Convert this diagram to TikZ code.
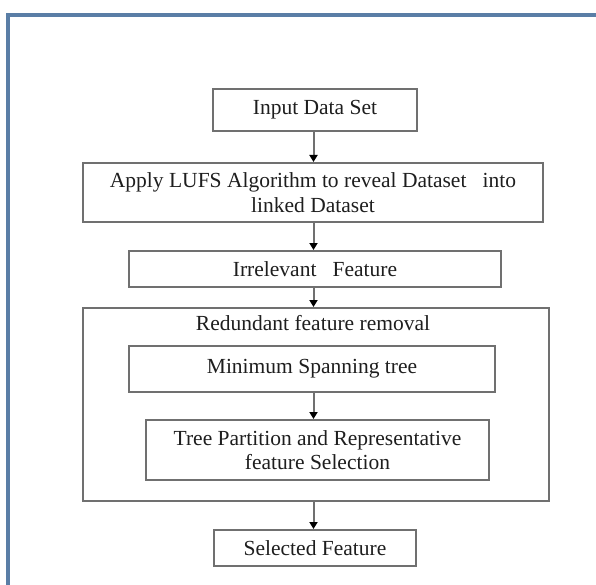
\documentclass[tikz,border=0pt]{standalone}
\usepackage{fontspec}
\setmainfont{Liberation Serif}
\usetikzlibrary{arrows.meta}
\definecolor{framebl}{HTML}{5A7EA6}
\definecolor{boxgray}{HTML}{707070}
\definecolor{textgray}{HTML}{1E1E1E}
\tikzset{
  flowbox/.style={draw=boxgray, line width=2pt, inner sep=0pt, align=center,
    text=textgray, font=\fontsize{21.5}{24.5}\selectfont},
  flowarrow/.style={draw=boxgray, line width=2pt,
    -{Triangle[width=8pt,length=7pt,color=black]}},
}
\begin{document}
\begin{tikzpicture}[x=1pt,y=-1pt]
\useasboundingbox (0,0) rectangle (596,585);
\fill[white] (0,0) rectangle (596,585);
% page frame: top and left edges
\draw[framebl, line width=3.5pt] (8,585) -- (8,15) -- (596,15);

\node[flowbox, minimum width=204pt, minimum height=42pt] (inp) at (315,110) {Input Data Set};
\node[flowbox, minimum width=460pt, minimum height=59pt] (apply) at (313,192.5)
  {Apply LUFS Algorithm to reveal Dataset\ \ \ into\\linked Dataset};
\node[flowbox, minimum width=372pt, minimum height=36pt] (irr) at (315,269) {Irrelevant\ \ \ Feature};
\node[flowbox, minimum width=466pt, minimum height=193pt] (red) at (316,404.5) {};
\node[text=textgray, font=\fontsize{21.5}{24.5}\selectfont, inner sep=0pt] (redt) at (313,323) {Redundant feature removal};
\node[flowbox, minimum width=366pt, minimum height=46pt] (mst) at (312,369) {Minimum Spanning tree};
\node[flowbox, minimum width=343pt, minimum height=60pt] (tree) at (317.5,450)
  {Tree Partition and Representative\\feature Selection};
\node[flowbox, minimum width=202pt, minimum height=36pt] (sel) at (315,548) {Selected Feature};

\draw[flowarrow] (313.5,0 |- inp.south) -- (313.5,0 |- apply.north);
\draw[flowarrow] (313.5,0 |- apply.south) -- (313.5,0 |- irr.north);
\draw[flowarrow] (313.5,0 |- irr.south) -- (313.5,0 |- red.north);
\draw[flowarrow] (313.5,0 |- mst.south) -- (313.5,0 |- tree.north);
\draw[flowarrow] (313.5,0 |- red.south) -- (313.5,0 |- sel.north);
\end{tikzpicture}
\end{document}
